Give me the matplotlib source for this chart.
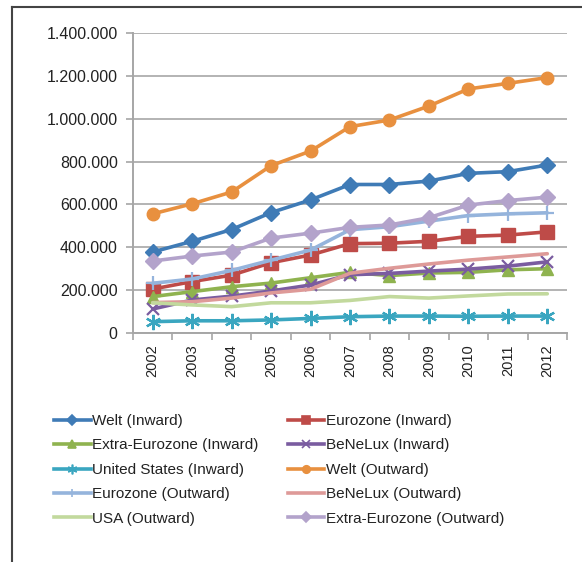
import matplotlib
matplotlib.use("Agg")
import matplotlib.pyplot as plt
from matplotlib.lines import Line2D
from matplotlib.ticker import FuncFormatter, FixedLocator

plt.rcParams['font.family'] = ['Liberation Sans', 'DejaVu Sans']

years = ["2002", "2003", "2004", "2005", "2006", "2007", "2008", "2009", "2010", "2011", "2012"]

welt_in = [378000, 428000, 483000, 562000, 621000, 693000, 693000, 709000, 745000, 753000, 784000]
euro_in = [205000, 240000, 270000, 328000, 364000, 417000, 419000, 428000, 451000, 457000, 472000]
extra_in = [170000, 193000, 216000, 233000, 258000, 283000, 268000, 280000, 283000, 295000, 300000]
benelux_in = [112000, 154000, 172000, 196000, 224000, 272000, 278000, 289000, 298000, 312000, 332000]
us_in = [53000, 57000, 57000, 61000, 68000, 76000, 79000, 79000, 78000, 79000, 79000]
welt_out = [556000, 603000, 658000, 781000, 849000, 963000, 994000, 1059000, 1139000, 1165000, 1192000]
euro_out = [232000, 252000, 292000, 340000, 387000, 482000, 496000, 522000, 548000, 556000, 561000]
benelux_out = [142000, 146000, 163000, 187000, 204000, 279000, 302000, 322000, 340000, 355000, 370000]
usa_out = [141000, 131000, 123000, 141000, 141000, 152000, 170000, 163000, 173000, 182000, 183000]
extra_out = [336000, 359000, 378000, 443000, 466000, 493000, 504000, 538000, 597000, 618000, 634000]

series = [
    ("Welt (Inward)", welt_in, "#3F7BB6", "D", 8),
    ("Eurozone (Inward)", euro_in, "#BE4B48", "s", 10),
    ("Extra-Eurozone (Inward)", extra_in, "#8FB34F", "^", 9),
    ("BeNeLux (Inward)", benelux_in, "#7A5CA0", "x", 9),
    ("United States (Inward)", us_in, "#3AA6C0", "*", 0),
    ("Welt (Outward)", welt_out, "#E8903F", "o", 9),
    ("Eurozone (Outward)", euro_out, "#95B4DC", "+", 10),
    ("BeNeLux (Outward)", benelux_out, "#DE9A98", None, 0),
    ("USA (Outward)", usa_out, "#C2D99D", None, 0),
    ("Extra-Eurozone (Outward)", extra_out, "#B3A3CB", "D", 8),
]

fig = plt.figure(figsize=(5.82, 5.62), dpi=100)
ax = fig.add_axes([133 / 582, 1 - 333 / 562, 434 / 582, 300 / 562])

x = list(range(len(years)))
handles = []
for name, vals, color, marker, ms in series:
    if marker == "*":
        # asterisk marker built from an x and a plus
        ax.plot(x, vals, color=color, lw=2.6, marker=(6, 2, 0), ms=11,
                mew=1.6, mec=color, label=name, solid_capstyle="round")
        hmark, hms = (6, 2, 0), 7
    elif marker is None:
        ax.plot(x, vals, color=color, lw=2.6, label=name, solid_capstyle="round")
        hmark, hms = None, 0
    elif marker in ("x", "+"):
        ax.plot(x, vals, color=color, lw=2.6, marker=marker, ms=ms,
                mew=1.6, label=name, solid_capstyle="round")
        hmark, hms = marker, ms * 0.6
    else:
        ax.plot(x, vals, color=color, lw=2.6, marker=marker, ms=ms,
                mec=color, label=name, solid_capstyle="round")
        hmark, hms = marker, ms * 0.6
    h = Line2D([], [], color=color, lw=2.6, marker=hmark, ms=hms, mec=color,
               mew=1.2)
    handles.append((h, name))

ax.set_xlim(-0.5, len(years) - 0.5)
ax.set_ylim(0, 1400000)
ax.set_yticks(range(0, 1400001, 200000))
ax.yaxis.set_major_formatter(FuncFormatter(lambda v, p: f"{int(v):,}".replace(",", ".")))
ax.set_xticks(x)
ax.set_xticklabels(years, rotation=90)
ax.xaxis.set_minor_locator(FixedLocator([i - 0.5 for i in range(len(years) + 1)]))
ax.tick_params(axis="x", which="major", length=0, pad=8, labelsize=10.5, labelcolor="#222222")
ax.tick_params(axis="x", which="minor", length=5, width=1.2, color="#A6A6A6", direction="out")
ax.tick_params(axis="y", length=5, width=1.2, color="#A6A6A6", labelsize=11.5,
               labelcolor="#222222", pad=6)

ax.grid(axis="y", color="#B3B3B3", lw=1.4)
ax.set_axisbelow(True)
for side in ("top", "right"):
    ax.spines[side].set_visible(False)
for side in ("left", "bottom"):
    ax.spines[side].set_color("#A6A6A6")
    ax.spines[side].set_linewidth(1.4)

# legend laid out row by row in two columns
order = [0, 2, 4, 6, 8, 1, 3, 5, 7, 9]
leg = fig.legend([handles[i][0] for i in order], [handles[i][1] for i in order],
                 ncol=2, loc="upper left", bbox_to_anchor=(48 / 582, 1 - 408 / 562),
                 frameon=False, fontsize=11, handlelength=2.4, handletextpad=0.1,
                 columnspacing=1.9, labelspacing=0.68, borderaxespad=0)
for t in leg.get_texts():
    t.set_color("#222222")

# outer frame lines
fig.add_artist(Line2D([12 / 582, 12 / 582], [0, 1 - 7 / 562], transform=fig.transFigure,
                      color="#444444", lw=1.5))
fig.add_artist(Line2D([12 / 582, 1], [1 - 7 / 562, 1 - 7 / 562], transform=fig.transFigure,
                      color="#444444", lw=1.5))

fig.savefig("out.png", dpi=100)
